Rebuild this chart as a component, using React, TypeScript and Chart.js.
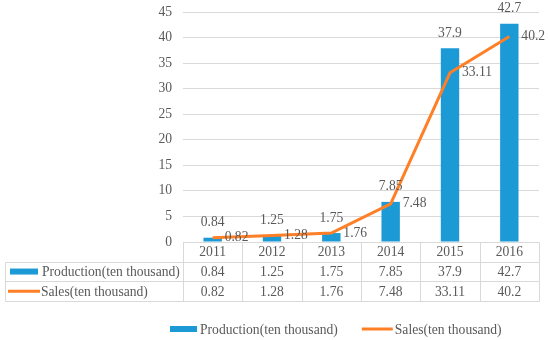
import React, { useEffect, useRef } from "react";
import { Chart, registerables } from "chart.js";

Chart.register(...registerables);

const categories = ["2011", "2012", "2013", "2014", "2015", "2016"];
const production = [0.84, 1.25, 1.75, 7.85, 37.9, 42.7];
const sales = [0.82, 1.28, 1.76, 7.48, 33.11, 40.2];
const productionLabel = "Production(ten thousand)";
const salesLabel = "Sales(ten thousand)";

const BLUE = "#1B9AD6";
const ORANGE = "#FF7F27";
const TEXT = "#595959";
const GRID = "#D9D9D9";
const FAMILY = "'Liberation Serif', 'Times New Roman', serif";
const FONT = "13.6px " + FAMILY;

const tablePlugin = {
  id: "tableAndLabels",
  afterDatasetsDraw(chart: any) {
    const ctx = chart.ctx;
    const area = chart.chartArea;
    const xs = chart.scales.x;
    ctx.save();
    ctx.font = FONT;
    ctx.fillStyle = TEXT;

    // data labels
    const barMeta = chart.getDatasetMeta(0);
    const lineMeta = chart.getDatasetMeta(1);
    ctx.textAlign = "center";
    ctx.textBaseline = "middle";
    barMeta.data.forEach((el: any, i: number) => {
      ctx.fillText(String(production[i]), el.x, el.y - 15);
    });
    ctx.textAlign = "left";
    lineMeta.data.forEach((el: any, i: number) => {
      ctx.fillText(String(sales[i]), el.x + 12, el.y);
    });

    // table
    const top = area.bottom;
    const rh = 19.7;
    const leftEdge = 5;
    const catW = xs.width / categories.length;
    ctx.strokeStyle = GRID;
    ctx.lineWidth = 1;
    const line = (x1: number, y1: number, x2: number, y2: number) => {
      ctx.beginPath();
      ctx.moveTo(Math.round(x1) + 0.5, Math.round(y1) + 0.5);
      ctx.lineTo(Math.round(x2) + 0.5, Math.round(y2) + 0.5);
      ctx.stroke();
    };
    line(area.left, top, area.right, top);
    line(leftEdge, top + rh, area.right, top + rh);
    line(leftEdge, top + 2 * rh, area.right, top + 2 * rh);
    line(leftEdge, top + 3 * rh, area.right, top + 3 * rh);
    line(leftEdge, top + rh, leftEdge, top + 3 * rh);
    for (let i = 0; i <= categories.length; i++) {
      const x = area.left + i * catW;
      line(x, top, x, top + 3 * rh);
    }
    ctx.textAlign = "center";
    ctx.textBaseline = "middle";
    categories.forEach((c, i) => {
      const cx = xs.getPixelForValue(i);
      ctx.fillText(c, cx, top + rh * 0.5 + 1);
      ctx.fillText(String(production[i]), cx, top + rh * 1.5 + 1);
      ctx.fillText(String(sales[i]), cx, top + rh * 2.5 + 1);
    });
    // header column
    ctx.textAlign = "left";
    ctx.fillStyle = BLUE;
    ctx.fillRect(10, top + rh * 1.5 - 3, 28, 6);
    ctx.fillStyle = TEXT;
    ctx.fillText(productionLabel, 42, top + rh * 1.5 + 1);
    ctx.strokeStyle = ORANGE;
    ctx.lineWidth = 3;
    ctx.beginPath();
    ctx.moveTo(8, top + rh * 2.5);
    ctx.lineTo(40, top + rh * 2.5);
    ctx.stroke();
    ctx.fillText(salesLabel, 41, top + rh * 2.5 + 1);

    // legend
    const ly = 329;
    let lx = 170;
    ctx.fillStyle = BLUE;
    ctx.fillRect(lx, ly - 3, 27, 6);
    ctx.fillStyle = TEXT;
    ctx.fillText(productionLabel, lx + 30, ly + 1);
    lx = lx + 30 + ctx.measureText(productionLabel).width + 24;
    ctx.strokeStyle = ORANGE;
    ctx.lineWidth = 3;
    ctx.beginPath();
    ctx.moveTo(lx, ly);
    ctx.lineTo(lx + 31, ly);
    ctx.stroke();
    ctx.fillText(salesLabel, lx + 33, ly + 1);
    ctx.restore();
  },
};

export default function App() {
  const ref = useRef<HTMLCanvasElement | null>(null);
  useEffect(() => {
    if (!ref.current) return;
    const chart = new Chart(ref.current, {
      type: "bar",
      data: {
        labels: categories,
        datasets: [
          {
            type: "bar",
            label: productionLabel,
            data: production,
            backgroundColor: BLUE,
            barPercentage: 0.62,
            categoryPercentage: 0.5,
            order: 2,
          },
          {
            type: "line",
            label: salesLabel,
            data: sales,
            borderColor: ORANGE,
            backgroundColor: ORANGE,
            borderWidth: 3,
            pointRadius: 0,
            tension: 0,
            order: 1,
          },
        ],
      },
      options: {
        responsive: false,
        animation: false,
        layout: { padding: { left: 0, right: 11, top: 12, bottom: 98 } },
        plugins: { legend: { display: false }, tooltip: { enabled: false } },
        scales: {
          x: { display: false, offset: true },
          y: {
            min: 0,
            max: 45,
            ticks: {
              stepSize: 5,
              padding: 11,
              color: TEXT,
              font: { family: FAMILY, size: 13.6 },
            },
            grid: { color: GRID, drawTicks: false },
            border: { display: false },
            afterFit: (s: any) => {
              s.width = 183;
              s.paddingTop = 0;
              s.paddingBottom = 0;
            },
          },
        },
      },
      plugins: [tablePlugin],
    });
    return () => chart.destroy();
  }, []);
  return (
    <div style={{ position: "fixed", left: 0, top: 0, width: 550, height: 340, background: "#fff" }}>
      <canvas ref={ref} width={550} height={340} style={{ width: 550, height: 340 }} />
    </div>
  );
}
